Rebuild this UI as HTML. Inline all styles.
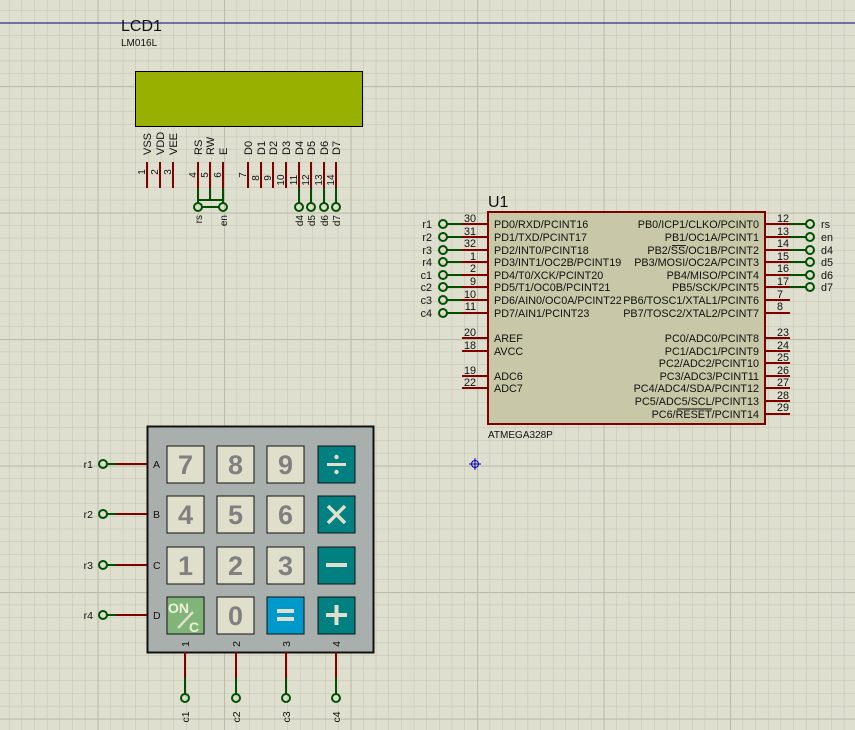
<!DOCTYPE html>
<html><head><meta charset="utf-8"><style>
html,body{margin:0;padding:0;background:#dfdfd0;}
svg{display:block;font-family:"Liberation Sans",sans-serif;}
</style></head><body>
<svg width="855" height="730" viewBox="0 0 855 730" xmlns="http://www.w3.org/2000/svg">
<defs>
<pattern id="g" x="8.95" y="10.1" width="12.65" height="12.65" patternUnits="userSpaceOnUse">
<path d="M0 0H12.65M0 0V12.65" stroke="#c2c2b2" stroke-width="1" fill="none"/>
</pattern>
<pattern id="G" x="97.5" y="86" width="126.5" height="126.5" patternUnits="userSpaceOnUse">
<path d="M0 0H126.5M0 0V126.5" stroke="#bcbcac" stroke-width="2.2" fill="none"/>
</pattern>
</defs>
<rect width="855" height="730" fill="#dfdfd0"/>
<rect width="855" height="730" fill="url(#g)"/>
<rect width="855" height="730" fill="url(#G)"/>
<line x1="0" y1="23" x2="855" y2="23" stroke="#000080" stroke-width="1"/>

<!-- LCD -->
<text x="121" y="31" font-size="16" fill="#111">LCD1</text>
<text x="121" y="46" font-size="10" fill="#111">LM016L</text>
<rect x="135.5" y="71.5" width="227" height="55" fill="#98b000" stroke="#000" stroke-width="1"/>
<g stroke="#800000" stroke-width="2">
<line x1="147" y1="162" x2="147" y2="188"/><line x1="160" y1="162" x2="160" y2="188"/><line x1="173" y1="162" x2="173" y2="188"/>
<line x1="198" y1="162" x2="198" y2="188"/><line x1="210" y1="162" x2="210" y2="188"/><line x1="223" y1="162" x2="223" y2="188"/>
<line x1="248" y1="162" x2="248" y2="188"/><line x1="261" y1="162" x2="261" y2="188"/><line x1="273" y1="162" x2="273" y2="188"/><line x1="286" y1="162" x2="286" y2="188"/>
<line x1="299" y1="162" x2="299" y2="188"/><line x1="311" y1="162" x2="311" y2="188"/><line x1="324" y1="162" x2="324" y2="188"/><line x1="336" y1="162" x2="336" y2="188"/>
</g>
<g stroke="#005000" stroke-width="2" fill="none">
<line x1="198" y1="188" x2="198" y2="203"/><line x1="210" y1="188" x2="210" y2="200"/><line x1="223" y1="188" x2="223" y2="203"/>
<line x1="198" y1="200" x2="223" y2="200"/>
<line x1="299" y1="188" x2="299" y2="203"/><line x1="311" y1="188" x2="311" y2="203"/><line x1="324" y1="188" x2="324" y2="203"/><line x1="336" y1="188" x2="336" y2="203"/>
<circle cx="198" cy="207" r="4"/><circle cx="223" cy="207" r="4"/>
<line x1="202" y1="207" x2="219" y2="207"/>
<circle cx="299" cy="207" r="4"/><circle cx="311" cy="207" r="4"/><circle cx="324" cy="207" r="4"/><circle cx="336" cy="207" r="4"/>
</g>
<g font-size="11" fill="#111">
<text transform="translate(151,155) rotate(-90)">VSS</text>
<text transform="translate(164,155) rotate(-90)">VDD</text>
<text transform="translate(177,155) rotate(-90)">VEE</text>
<text transform="translate(202,155) rotate(-90)">RS</text>
<text transform="translate(214,155) rotate(-90)">RW</text>
<text transform="translate(227,155) rotate(-90)">E</text>
<text transform="translate(252,155) rotate(-90)">D0</text>
<text transform="translate(265,155) rotate(-90)">D1</text>
<text transform="translate(277,155) rotate(-90)">D2</text>
<text transform="translate(290,155) rotate(-90)">D3</text>
<text transform="translate(303,155) rotate(-90)">D4</text>
<text transform="translate(315,155) rotate(-90)">D5</text>
<text transform="translate(328,155) rotate(-90)">D6</text>
<text transform="translate(340,155) rotate(-90)">D7</text>
</g>
<g font-size="10" fill="#111" text-anchor="end">
<text transform="translate(145,172) rotate(-90)" text-anchor="middle">1</text>
<text transform="translate(158,172) rotate(-90)" text-anchor="middle">2</text>
<text transform="translate(171,172) rotate(-90)" text-anchor="middle">3</text>
<text transform="translate(196,175) rotate(-90)" text-anchor="middle">4</text>
<text transform="translate(208,175) rotate(-90)" text-anchor="middle">5</text>
<text transform="translate(221,175) rotate(-90)" text-anchor="middle">6</text>
<text transform="translate(246,175) rotate(-90)" text-anchor="middle">7</text>
<text transform="translate(259,178) rotate(-90)" text-anchor="middle">8</text>
<text transform="translate(271,178) rotate(-90)" text-anchor="middle">9</text>
<text transform="translate(284,180) rotate(-90)" text-anchor="middle">10</text>
<text transform="translate(297,180) rotate(-90)" text-anchor="middle">11</text>
<text transform="translate(309,180) rotate(-90)" text-anchor="middle">12</text>
<text transform="translate(322,180) rotate(-90)" text-anchor="middle">13</text>
<text transform="translate(334,180) rotate(-90)" text-anchor="middle">14</text>
</g>
<g font-size="10" fill="#111" text-anchor="end">
<text transform="translate(202,215) rotate(-90)">rs</text>
<text transform="translate(227,215) rotate(-90)">en</text>
<text transform="translate(303,215) rotate(-90)">d4</text>
<text transform="translate(315,215) rotate(-90)">d5</text>
<text transform="translate(328,215) rotate(-90)">d6</text>
<text transform="translate(340,215) rotate(-90)">d7</text>
</g>

<!-- MCU -->
<text x="488" y="207" font-size="16" fill="#111">U1</text>
<rect x="488" y="212" width="277" height="212" fill="#c8c8a8" stroke="#800000" stroke-width="2"/>
<text x="488" y="438" font-size="10" fill="#111">ATMEGA328P</text>
<g stroke="#800000" stroke-width="2">
<line x1="462" y1="224" x2="488" y2="224"/><line x1="462" y1="237" x2="488" y2="237"/><line x1="462" y1="250" x2="488" y2="250"/><line x1="462" y1="262" x2="488" y2="262"/>
<line x1="462" y1="275" x2="488" y2="275"/><line x1="462" y1="287" x2="488" y2="287"/><line x1="462" y1="300" x2="488" y2="300"/><line x1="462" y1="313" x2="488" y2="313"/>
<line x1="462" y1="338" x2="488" y2="338"/><line x1="462" y1="351" x2="488" y2="351"/><line x1="462" y1="376" x2="488" y2="376"/><line x1="462" y1="388" x2="488" y2="388"/>
<line x1="765" y1="224" x2="790" y2="224"/><line x1="765" y1="237" x2="790" y2="237"/><line x1="765" y1="250" x2="790" y2="250"/><line x1="765" y1="262" x2="790" y2="262"/>
<line x1="765" y1="275" x2="790" y2="275"/><line x1="765" y1="287" x2="790" y2="287"/><line x1="765" y1="300" x2="790" y2="300"/><line x1="765" y1="313" x2="790" y2="313"/>
<line x1="765" y1="338" x2="790" y2="338"/><line x1="765" y1="351" x2="790" y2="351"/><line x1="765" y1="363" x2="790" y2="363"/><line x1="765" y1="376" x2="790" y2="376"/>
<line x1="765" y1="388" x2="790" y2="388"/><line x1="765" y1="401" x2="790" y2="401"/><line x1="765" y1="414" x2="790" y2="414"/>
</g>
<g stroke="#005000" stroke-width="2" fill="none">
<path d="M447 224H462M447 237H462M447 250H462M447 262H462M447 275H462M447 287H462M447 300H462M447 313H462"/>
<circle cx="443" cy="224" r="4"/><circle cx="443" cy="237" r="4"/><circle cx="443" cy="250" r="4"/><circle cx="443" cy="262" r="4"/>
<circle cx="443" cy="275" r="4"/><circle cx="443" cy="287" r="4"/><circle cx="443" cy="300" r="4"/><circle cx="443" cy="313" r="4"/>
<path d="M790 224H806M790 237H806M790 250H806M790 262H806M790 275H806M790 287H806"/>
<circle cx="810" cy="224" r="4"/><circle cx="810" cy="237" r="4"/><circle cx="810" cy="250" r="4"/><circle cx="810" cy="262" r="4"/>
<circle cx="810" cy="275" r="4"/><circle cx="810" cy="287" r="4"/>
</g>
<g font-size="10.8" fill="#111">
<g text-anchor="end">
<text x="432" y="228">r1</text><text x="432" y="241">r2</text><text x="432" y="254">r3</text><text x="432" y="266">r4</text>
<text x="432" y="279">c1</text><text x="432" y="291">c2</text><text x="432" y="304">c3</text><text x="432" y="317">c4</text>
</g>
<text x="821" y="228">rs</text><text x="821" y="241">en</text><text x="821" y="254">d4</text><text x="821" y="266">d5</text><text x="821" y="279">d6</text><text x="821" y="291">d7</text>
<g text-anchor="end">
<text x="476" y="222">30</text><text x="476" y="235">31</text><text x="476" y="247">32</text><text x="476" y="260">1</text>
<text x="476" y="272">2</text><text x="476" y="285">9</text><text x="476" y="298">10</text><text x="476" y="310">11</text>
<text x="476" y="336">20</text><text x="476" y="349">18</text><text x="476" y="374">19</text><text x="476" y="386">22</text>
</g>
<text x="777" y="222">12</text><text x="777" y="235">13</text><text x="777" y="247">14</text><text x="777" y="260">15</text>
<text x="777" y="272">16</text><text x="777" y="285">17</text><text x="777" y="298">7</text><text x="777" y="310">8</text>
<text x="777" y="336">23</text><text x="777" y="349">24</text><text x="777" y="361">25</text><text x="777" y="374">26</text>
<text x="777" y="386">27</text><text x="777" y="399">28</text><text x="777" y="411">29</text>
<text x="494" y="228">PD0/RXD/PCINT16</text><text x="494" y="241">PD1/TXD/PCINT17</text><text x="494" y="254">PD2/INT0/PCINT18</text>
<text x="494" y="266">PD3/INT1/OC2B/PCINT19</text><text x="494" y="279">PD4/T0/XCK/PCINT20</text><text x="494" y="291">PD5/T1/OC0B/PCINT21</text>
<text x="494" y="304">PD6/AIN0/OC0A/PCINT22</text><text x="494" y="317">PD7/AIN1/PCINT23</text>
<text x="494" y="342">AREF</text><text x="494" y="355">AVCC</text><text x="494" y="380">ADC6</text><text x="494" y="392">ADC7</text>
<g text-anchor="end">
<text x="759" y="228">PB0/ICP1/CLKO/PCINT0</text><text x="759" y="241">PB1/OC1A/PCINT1</text><text x="759" y="254">PB2/SS/OC1B/PCINT2</text>
<text x="759" y="266">PB3/MOSI/OC2A/PCINT3</text><text x="759" y="279">PB4/MISO/PCINT4</text><text x="759" y="291">PB5/SCK/PCINT5</text>
<text x="759" y="304">PB6/TOSC1/XTAL1/PCINT6</text><text x="759" y="317">PB7/TOSC2/XTAL2/PCINT7</text>
<text x="759" y="342">PC0/ADC0/PCINT8</text><text x="759" y="355">PC1/ADC1/PCINT9</text><text x="759" y="367">PC2/ADC2/PCINT10</text>
<text x="759" y="380">PC3/ADC3/PCINT11</text><text x="759" y="392">PC4/ADC4/SDA/PCINT12</text><text x="759" y="405">PC5/ADC5/SCL/PCINT13</text>
<text x="759" y="418">PC6/RESET/PCINT14</text>
</g>
</g>
<line x1="672" y1="245.5" x2="686" y2="245.5" stroke="#111" stroke-width="0.9"/>
<line x1="677" y1="409" x2="712" y2="409" stroke="#111" stroke-width="0.9"/>

<!-- crosshair -->
<g stroke="#0000c0" stroke-width="1" fill="none"><circle cx="475" cy="464" r="3.5"/><path d="M469 464H481M475 458V470"/></g>

<!-- Keypad -->
<rect x="147.5" y="426.5" width="226" height="226" fill="#a9afac" stroke="#111" stroke-width="2"/>
<g stroke="#800000" stroke-width="2">
<path d="M116 464H147M116 514H147M116 565H147M116 615H147"/>
<path d="M185 652V678M236 652V678M286 652V678M336 652V678"/>
</g>
<g stroke="#005000" stroke-width="2" fill="none">
<path d="M107 464H116M107 514H116M107 565H116M107 615H116"/>
<circle cx="103" cy="464" r="4"/><circle cx="103" cy="514" r="4"/><circle cx="103" cy="565" r="4"/><circle cx="103" cy="615" r="4"/>
<path d="M185 678V694M236 678V694M286 678V694M336 678V694"/>
<circle cx="185" cy="698" r="4"/><circle cx="236" cy="698" r="4"/><circle cx="286" cy="698" r="4"/><circle cx="336" cy="698" r="4"/>
</g>
<g font-size="10.5" fill="#111">
<g text-anchor="end"><text x="93" y="468">r1</text><text x="93" y="518">r2</text><text x="93" y="569">r3</text><text x="93" y="619">r4</text></g>
<text x="153" y="468">A</text><text x="153" y="518">B</text><text x="153" y="569">C</text><text x="153" y="619">D</text>
<g text-anchor="middle">
<text transform="translate(189,644) rotate(-90)">1</text><text transform="translate(240,644) rotate(-90)">2</text>
<text transform="translate(290,644) rotate(-90)">3</text><text transform="translate(340,644) rotate(-90)">4</text>
<text transform="translate(189,717) rotate(-90)">c1</text><text transform="translate(240,717) rotate(-90)">c2</text>
<text transform="translate(290,717) rotate(-90)">c3</text><text transform="translate(340,717) rotate(-90)">c4</text>
</g>
</g>
<g stroke="#111" stroke-width="1">
<rect x="167" y="446" width="37" height="37" fill="#e0dfcc"/><rect x="217" y="446" width="37" height="37" fill="#e0dfcc"/><rect x="267" y="446" width="37" height="37" fill="#e0dfcc"/><rect x="318" y="446" width="37" height="37" fill="#008080"/>
<rect x="167" y="496" width="37" height="37" fill="#e0dfcc"/><rect x="217" y="496" width="37" height="37" fill="#e0dfcc"/><rect x="267" y="496" width="37" height="37" fill="#e0dfcc"/><rect x="318" y="496" width="37" height="37" fill="#008080"/>
<rect x="167" y="547" width="37" height="37" fill="#e0dfcc"/><rect x="217" y="547" width="37" height="37" fill="#e0dfcc"/><rect x="267" y="547" width="37" height="37" fill="#e0dfcc"/><rect x="318" y="547" width="37" height="37" fill="#008080"/>
<rect x="167" y="597" width="37" height="37" fill="#80b478"/><rect x="217" y="597" width="37" height="37" fill="#e0dfcc"/><rect x="267" y="597" width="37" height="37" fill="#0099cc"/><rect x="318" y="597" width="37" height="37" fill="#008080"/>
</g>
<g font-size="27" font-weight="bold" fill="#808080" text-anchor="middle">
<text x="185.5" y="474">7</text><text x="235.5" y="474">8</text><text x="285.5" y="474">9</text>
<text x="185.5" y="524">4</text><text x="235.5" y="524">5</text><text x="285.5" y="524">6</text>
<text x="185.5" y="575">1</text><text x="235.5" y="575">2</text><text x="285.5" y="575">3</text>
<text x="235.5" y="625">0</text>
</g>
<g fill="#e0dfcc" stroke="#e0dfcc">
<rect x="327" y="463" width="19" height="3" stroke="none"/><circle cx="336.5" cy="457" r="2.2" stroke="none"/><circle cx="336.5" cy="472" r="2.2" stroke="none"/>
<path d="M328 506L345 523M345 506L328 523" stroke-width="3.5" fill="none"/>
<rect x="326" y="563" width="21" height="4" stroke="none"/>
<rect x="326" y="613" width="21" height="4" stroke="none"/><rect x="334.5" y="605" width="4" height="20" stroke="none"/>
<rect x="277" y="609" width="17" height="4" stroke="none"/><rect x="277" y="617" width="17" height="4" stroke="none"/>
<path d="M178 628L193 612" stroke-width="2.5" fill="none"/>
</g>
<g fill="#f0f0d8" font-weight="bold">
<text x="168" y="613" font-size="14">ON</text><text x="189" y="632" font-size="14">C</text>
</g>
</svg>
</body></html>
